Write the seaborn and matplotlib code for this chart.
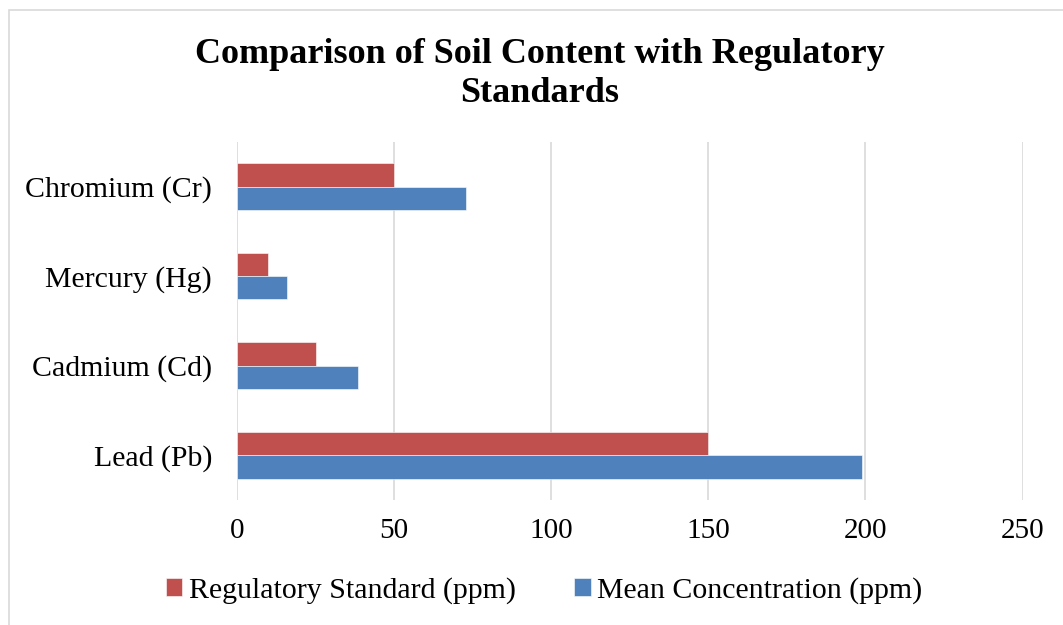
import pandas as pd
import matplotlib.pyplot as plt
import seaborn as sns
from matplotlib.patches import Rectangle

# Chart data
metals = ['Chromium (Cr)', 'Mercury (Hg)', 'Cadmium (Cd)', 'Lead (Pb)']
regulatory_standard = [50, 10, 25, 150]
mean_concentration = [73, 16, 38.5, 199]
series_names = ['Regulatory Standard (ppm)', 'Mean Concentration (ppm)']
x_ticks = [0, 50, 100, 150, 200, 250]

df = pd.DataFrame({
    'Metal': metals * 2,
    'Series': [series_names[0]] * len(metals) + [series_names[1]] * len(metals),
    'Value': regulatory_standard + mean_concentration,
})

sns.set_style('white')
plt.rcParams['font.family'] = ['Liberation Serif', 'DejaVu Serif']
plt.rcParams['text.color'] = 'black'
plt.rcParams['xtick.color'] = 'black'
plt.rcParams['ytick.color'] = 'black'

fig = plt.figure(figsize=(10.63, 6.25), dpi=100)
ax = fig.add_axes([0.223, 0.2, 0.739, 0.573])

# 1. Draw the grouped horizontal bars
sns.barplot(data=df, y='Metal', x='Value', hue='Series', order=metals,
            hue_order=series_names, palette=['#C0504D', '#4F81BD'],
            orient='h', width=0.52, gap=0, saturation=1, ax=ax,
            edgecolor='white', linewidth=0.4)

# 2. Axis styling
ax.set_xlim(0, 250)
ax.set_xticks(x_ticks)
ax.set_xticklabels([str(t) for t in x_ticks], fontsize=21)
ax.tick_params(axis='y', labelsize=21.5, length=0, pad=18)
ax.tick_params(axis='x', length=0, pad=13)
ax.set_xlabel('')
ax.set_ylabel('')
ax.grid(axis='x', color='#d9d9d9', linewidth=1.2)
ax.set_axisbelow(True)
for side in ['top', 'right', 'bottom', 'left']:
    ax.spines[side].set_visible(False)

# 3. Title and legend
fig.suptitle('Comparison of Soil Content with Regulatory\nStandards',
             fontsize=26, fontweight='bold', y=0.939, x=0.508, linespacing=1.25)

handles, labels = ax.get_legend_handles_labels()
ax.legend(handles, labels, loc='center', bbox_to_anchor=(0.512, 0.055),
          bbox_transform=fig.transFigure, ncol=2, frameon=False,
          fontsize=21.5, handlelength=0.55, handleheight=0.55,
          handletextpad=0.22, columnspacing=1.95)

# 4. Light chart border
fig.patches.append(Rectangle((0.008, -0.02), 1.1, 1.004, transform=fig.transFigure,
                             fill=False, edgecolor='#d9d9d9', linewidth=1.2))

plt.savefig('out.png', dpi=100)
plt.close()
